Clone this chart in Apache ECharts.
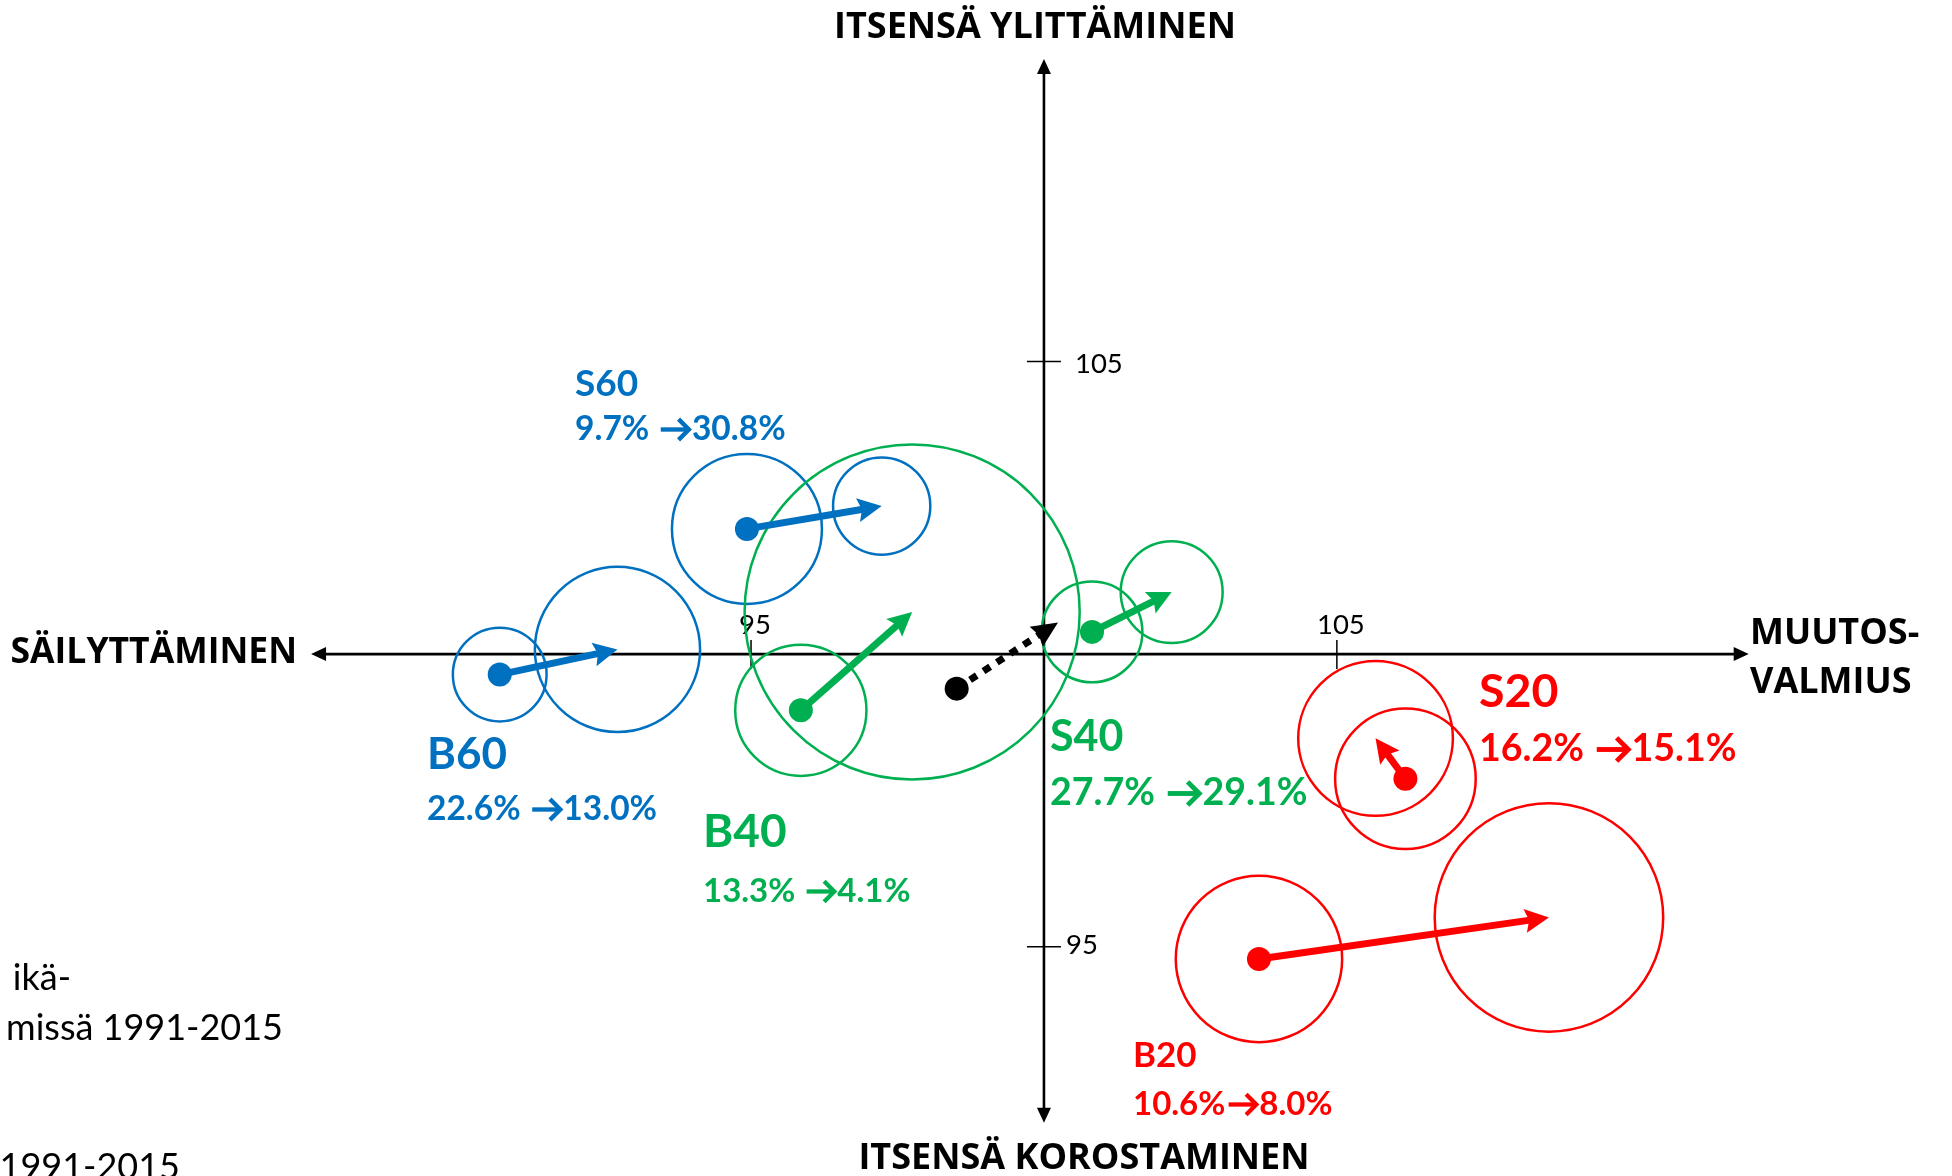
<!DOCTYPE html>
<html>
<head>
<meta charset="utf-8">
<script src="https://cdn.jsdelivr.net/npm/echarts/dist/echarts.min.js"></script>
<style>
html,body{margin:0;padding:0;background:#ffffff;}
#chart{width:1952px;height:1176px;}
</style>
</head>
<body>
<div id="chart"></div>
<script>
// ---------- data ----------
const groups   = ['S60', 'B60', 'B40', 'S40', 'S20', 'B20'];
const startX   = [94.93, 90.71, 95.85, 100.82, 106.17, 103.67];   // 1991 position
const startY   = [102.14, 99.65, 99.04, 100.38, 97.87, 94.79];
const endX     = [97.23, 92.72, 97.75, 102.18, 105.66, 108.62];    // 2015 position
const endY     = [102.53, 100.08, 100.72, 101.06, 98.56, 95.50];
const startR   = [1.28, 0.80, 1.12, 0.86, 1.20, 1.42];             // circle radius (axis units)
const endR     = [0.83, 1.41, 2.86, 0.87, 1.32, 1.95];
const share1991 = ['9.7%', '22.6%', '13.3%', '27.7%', '16.2%', '10.6%'];
const share2015 = ['30.8%', '13.0%', '4.1%', '29.1%', '15.1%', '8.0%'];
const shareSep  = [' ', ' ', ' ', ' ', ' ', ''];
const totalStart = [98.51, 99.41];
const totalEnd   = [100.24, 100.54];
const xTicks = [95, 105];
const yTicks = [95, 105];
const xTickLabels = ['95', '105'];
const yTickLabels = ['95', '105'];
const origin = [100, 100];
const axisXRange = [87.49, 112.03];
const axisYRange = [91.99, 110.17];
const axisTitles = ['ITSENSÄ YLITTÄMINEN', 'ITSENSÄ KOROSTAMINEN', 'SÄILYTTÄMINEN', 'MUUTOS-', 'VALMIUS'];
const sideTexts = ['ikä-', 'missä 1991-2015', '1991-2015'];

// ---------- styles / layout ----------
const groupColors = ['#0070C0', '#0070C0', '#00B050', '#00B050', '#FF0000', '#FF0000'];
const FF = "Lato, 'Noto Sans', 'DejaVu Sans', sans-serif";
const FT = "'Open Sans', 'Noto Sans', sans-serif";
// [left x, name cap-centre y, name size, share y, share size]
const labelLayout = [
  [575, 384, 37, 429, 33.5],
  [427, 755, 44, 809, 33.5],
  [703, 832, 46, 891, 33],
  [1050, 737, 43, 793, 37.5],
  [1479, 692, 46.5, 749, 37.5],
  [1133, 1056, 35, 1104, 33]
];
const yTickLabelDx = [22, 31];
const yTickLabelDy = [-2, 3];

const chart = echarts.init(document.getElementById('chart'), null, {renderer: 'canvas'});
const mctx = document.createElement('canvas').getContext('2d');
function textWidth(text, font) { mctx.font = font; return mctx.measureText(text).width; }

function txt(x, y, text, font, fill, align) {
  return {type: 'text', x: x, y: y, silent: true,
          style: {text: text, font: font, fill: fill,
                  align: align, verticalAlign: 'middle',
                  textAlign: align, textVerticalAlign: 'middle'}};
}

function arrowShape(p0, p1, headLen, headHalf, notch) {
  const dx = p1[0] - p0[0], dy = p1[1] - p0[1];
  const len = Math.sqrt(dx * dx + dy * dy) || 1;
  const ux = dx / len, uy = dy / len;
  const nx = -uy, ny = ux;
  const bx = p1[0] - ux * headLen, by = p1[1] - uy * headLen;
  return {
    lineEnd: [bx + ux * (notch + 1), by + uy * (notch + 1)],
    head: [
      [p1[0], p1[1]],
      [bx + nx * headHalf, by + ny * headHalf],
      [bx + ux * notch, by + uy * notch],
      [bx - nx * headHalf, by - ny * headHalf]
    ]
  };
}

// circles
const circleData = [];
groups.forEach((g, i) => {
  circleData.push([startX[i], startY[i], startR[i], i]);
  circleData.push([endX[i], endY[i], endR[i], i]);
});

// arrows
const arrowData = groups.map((g, i) => [startX[i], startY[i], endX[i], endY[i], i, 0]);
arrowData.push([totalStart[0], totalStart[1], totalEnd[0], totalEnd[1], -1, 1]);

// dots
const dotData = groups.map((g, i) => ({value: [startX[i], startY[i]], itemStyle: {color: groupColors[i], opacity: 1}}));
dotData.push({value: totalStart, itemStyle: {color: '#000000', opacity: 1}});

// graphic texts
const graphics = [];
groups.forEach((g, i) => {
  const L = labelLayout[i];
  const col = groupColors[i];
  graphics.push(txt(L[0], L[1], g, 'bold ' + L[2] + 'px ' + FF, col, 'left'));
  const s = L[4];
  const font = 'bold ' + s + 'px ' + FF;
  const part1 = share1991[i] + shareSep[i];
  graphics.push(txt(L[0], L[3], part1, font, col, 'left'));
  const ax0 = L[0] + textWidth(part1, font) + 0.1 * s;
  const aw = 0.86 * s;
  const yc = L[3] + 0.5;
  const lw = 0.13 * s;
  graphics.push({type: 'line', silent: true,
    shape: {x1: ax0, y1: yc, x2: ax0 + aw - 0.06 * s, y2: yc},
    style: {stroke: col, lineWidth: lw, lineCap: 'butt'}});
  graphics.push({type: 'polyline', silent: true,
    shape: {points: [[ax0 + aw - 0.33 * s, yc - 0.31 * s], [ax0 + aw - 0.02 * s, yc], [ax0 + aw - 0.33 * s, yc + 0.31 * s]]},
    style: {stroke: col, fill: null, lineWidth: lw, lineJoin: 'miter', lineCap: 'butt'}});
  graphics.push(txt(ax0 + aw + 0.07 * s, L[3], share2015[i], font, col, 'left'));
});
graphics.push(txt(1035, 28, axisTitles[0], 'bold 36px ' + FT, '#000', 'center'));
graphics.push(txt(1084, 1159, axisTitles[1], 'bold 36px ' + FT, '#000', 'center'));
graphics.push(txt(297, 653, axisTitles[2], 'bold 35.5px ' + FT, '#000', 'right'));
graphics.push(txt(1750, 634, axisTitles[3], 'bold 36px ' + FT, '#000', 'left'));
graphics.push(txt(1750, 683, axisTitles[4], 'bold 36px ' + FT, '#000', 'left'));
graphics.push(txt(71, 978, sideTexts[0], '36px ' + FF, '#000', 'right'));
graphics.push(txt(283, 1028, sideTexts[1], '36px ' + FF, '#000', 'right'));
graphics.push(txt(180, 1167, sideTexts[2], '36px ' + FF, '#000', 'right'));

const option = {
  backgroundColor: '#ffffff',
  animation: false,
  grid: {left: 0, right: 0, top: 0, bottom: 0},
  xAxis: {type: 'value', min: 82.18, max: 115.5, show: false},
  yAxis: {type: 'value', min: 91.08, max: 111.18, show: false},
  graphic: graphics,
  series: [
    {
      type: 'custom', z: 1, silent: true,
      data: [origin],
      renderItem: function (params, api) {
        const o = api.coord(origin);
        const L = api.coord([axisXRange[0], origin[1]]);
        const R = api.coord([axisXRange[1], origin[1]]);
        const T = api.coord([origin[0], axisYRange[1]]);
        const B = api.coord([origin[0], axisYRange[0]]);
        const ls = {stroke: '#000', lineWidth: 2.6};
        const ch = [];
        const hl = 15, hw = 7;
        ch.push({type: 'line', shape: {x1: L[0] + hl - 1, y1: o[1], x2: R[0] - hl + 1, y2: o[1]}, style: ls});
        ch.push({type: 'line', shape: {x1: o[0], y1: T[1] + hl - 1, x2: o[0], y2: B[1] - hl + 1}, style: ls});
        ch.push({type: 'polygon', shape: {points: [[L[0], o[1]], [L[0] + hl, o[1] - hw], [L[0] + hl, o[1] + hw]]}, style: {fill: '#000'}});
        ch.push({type: 'polygon', shape: {points: [[R[0], o[1]], [R[0] - hl, o[1] - hw], [R[0] - hl, o[1] + hw]]}, style: {fill: '#000'}});
        ch.push({type: 'polygon', shape: {points: [[o[0], T[1]], [o[0] - hw, T[1] + hl], [o[0] + hw, T[1] + hl]]}, style: {fill: '#000'}});
        ch.push({type: 'polygon', shape: {points: [[o[0], B[1]], [o[0] - hw, B[1] - hl], [o[0] + hw, B[1] - hl]]}, style: {fill: '#000'}});
        xTicks.forEach((t, k) => {
          const p = api.coord([t, origin[1]]);
          ch.push({type: 'line', shape: {x1: p[0], y1: p[1] - 14, x2: p[0], y2: p[1] + 15}, style: {stroke: '#000', lineWidth: 1.5}});
          ch.push(txt(p[0] + 4, p[1] - 29, xTickLabels[k], '27.5px ' + FF, '#000', 'center'));
        });
        yTicks.forEach((t, k) => {
          const p = api.coord([origin[0], t]);
          ch.push({type: 'line', shape: {x1: p[0] - 17, y1: p[1], x2: p[0] + 17, y2: p[1]}, style: {stroke: '#000', lineWidth: 1.5}});
          ch.push(txt(p[0] + yTickLabelDx[k], p[1] + yTickLabelDy[k], yTickLabels[k], '27.5px ' + FF, '#000', 'left'));
        });
        return {type: 'group', children: ch};
      }
    },
    {
      type: 'custom', z: 2, silent: true,
      data: circleData,
      renderItem: function (params, api) {
        const c = api.coord([api.value(0), api.value(1)]);
        const r = api.size([api.value(2), 0])[0];
        return {type: 'circle', shape: {cx: c[0], cy: c[1], r: r},
                style: {fill: 'none', stroke: groupColors[api.value(3)], lineWidth: 2.5}};
      }
    },
    {
      type: 'custom', z: 3, silent: true,
      data: arrowData,
      renderItem: function (params, api) {
        const p0 = api.coord([api.value(0), api.value(1)]);
        const p1 = api.coord([api.value(2), api.value(3)]);
        const ci = api.value(4);
        const dashed = api.value(5) === 1;
        const col = ci < 0 ? '#000000' : groupColors[ci];
        const a = dashed ? arrowShape(p0, p1, 26, 12, 3) : arrowShape(p0, p1, 24, 12, 4);
        return {type: 'group', children: [
          {type: 'line', shape: {x1: p0[0], y1: p0[1], x2: a.lineEnd[0], y2: a.lineEnd[1]},
           style: {stroke: col, lineWidth: 7, lineDash: dashed ? [8, 8] : null, lineCap: 'butt'}},
          {type: 'polygon', shape: {points: a.head}, style: {fill: col}}
        ]};
      }
    },
    {
      type: 'scatter', z: 4, silent: true,
      symbol: 'circle', symbolSize: 24,
      itemStyle: {opacity: 1},
      emphasis: {disabled: true},
      data: dotData
    }
  ]
};
chart.setOption(option);
</script>
</body>
</html>
